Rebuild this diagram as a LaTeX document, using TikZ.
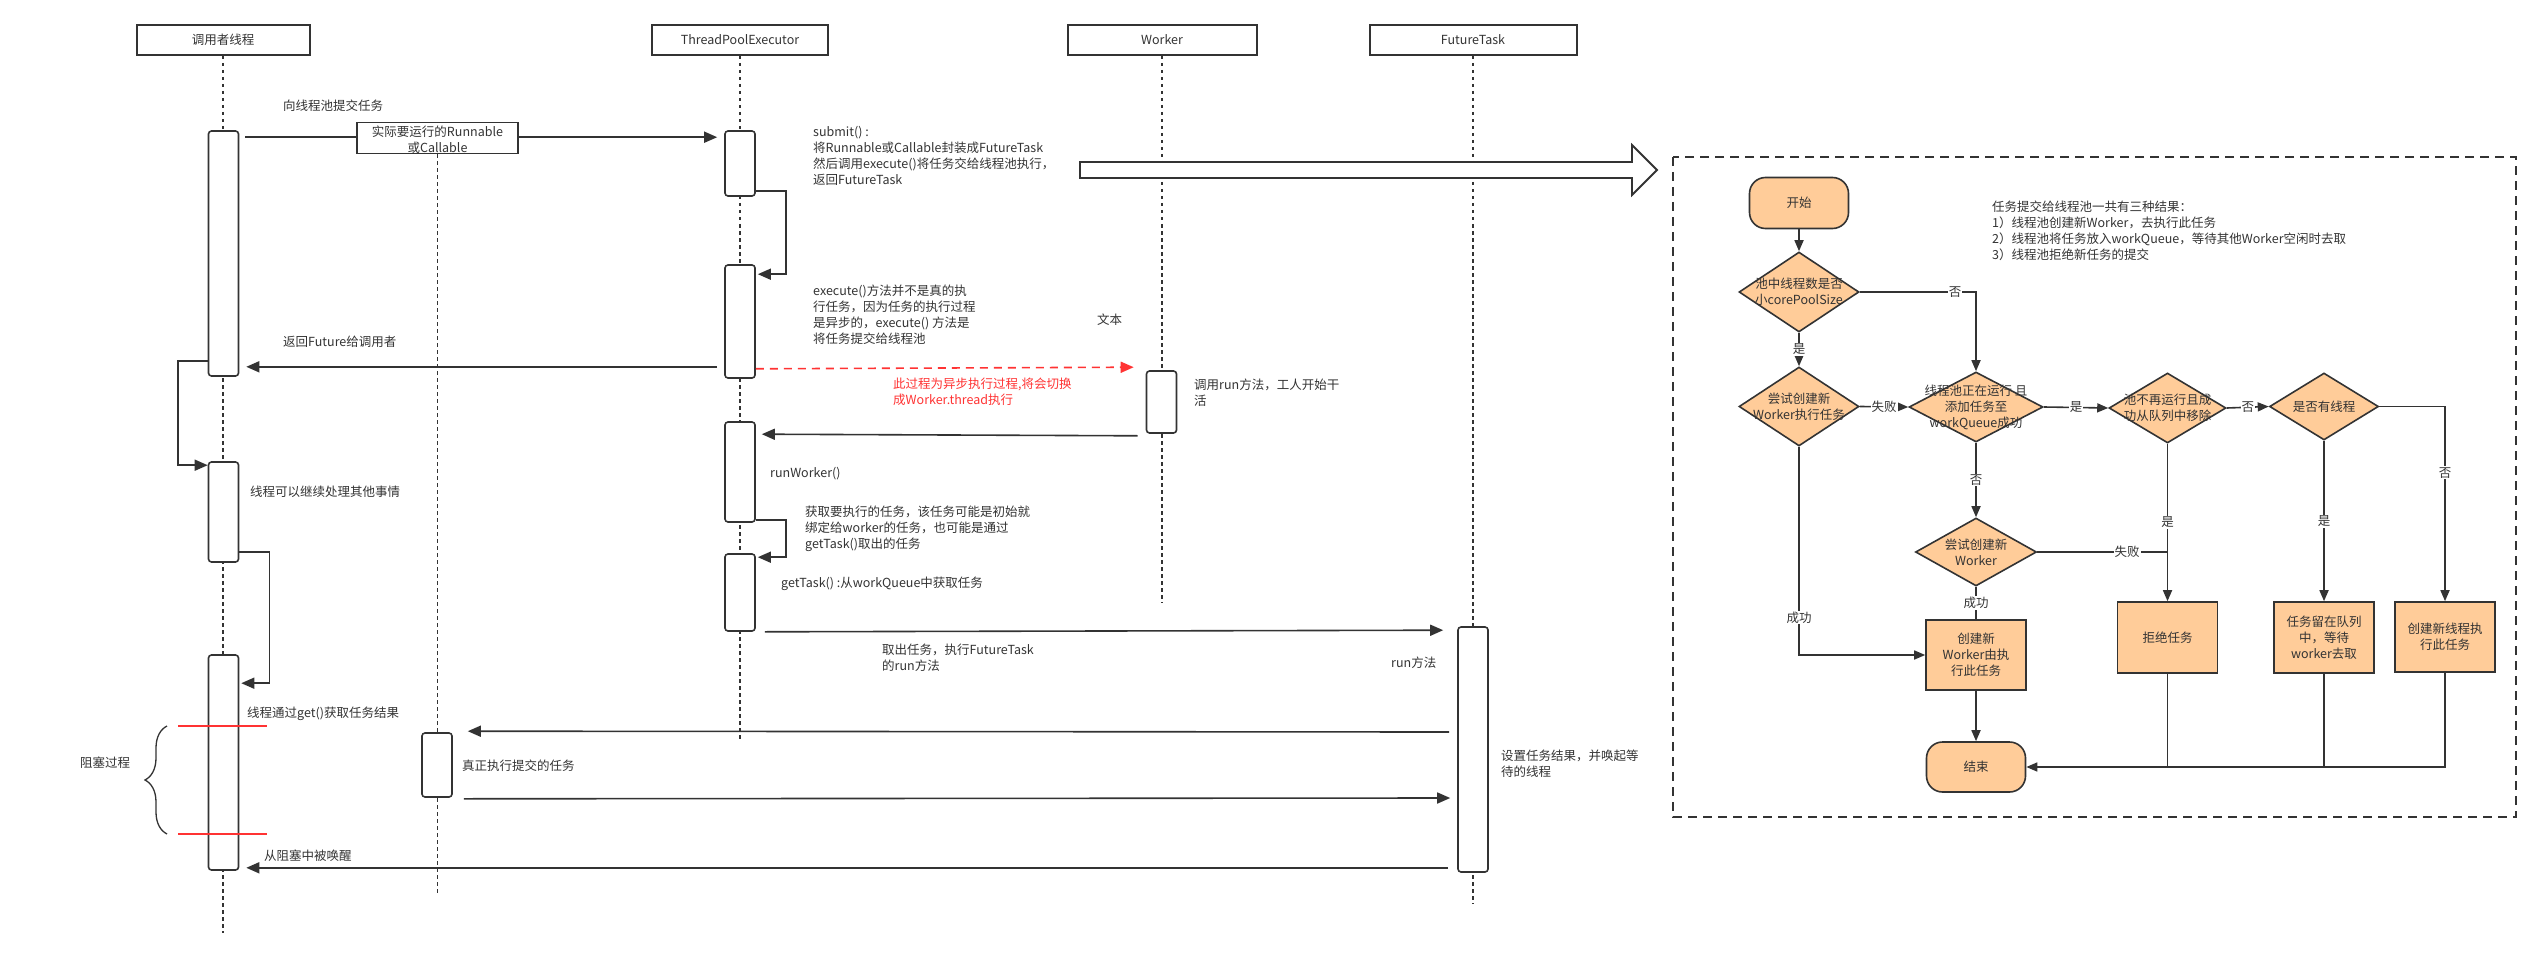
\documentclass[tikz,border=0pt]{standalone}
\usepackage{fontspec}
\setmainfont{Noto Sans CJK SC}
\usetikzlibrary{arrows.meta,shapes.geometric,decorations.pathreplacing,calc}
\definecolor{lc}{HTML}{333333}
\definecolor{tc}{HTML}{333333}
\definecolor{fc}{HTML}{FFCC99}
\definecolor{rc}{HTML}{FF3333}
\newcommand\myfs{\fontsize{12.5}{16}\selectfont}
\begin{document}
\begin{tikzpicture}[x=1pt,y=-1pt,
  hdr/.style={draw=lc, line width=2pt, minimum height=30pt, inner sep=0pt, font=\myfs, text=tc},
  life/.style={draw=lc, line width=1.5pt, dash pattern=on 3.5pt off 3.5pt},
  act/.style={draw=lc, fill=white, line width=1.6pt, rounded corners=3pt, minimum width=30pt, inner sep=0pt},
  msg/.style={draw=lc, line width=1.6pt, -{Triangle[length=13pt,width=11pt]}},
  rmsg/.style={draw=rc, line width=1.6pt, dash pattern=on 8pt off 6pt, -{Triangle[length=13pt,width=11pt,fill=rc]}},
  txt/.style={anchor=north west, inner sep=0pt, align=left, font=\myfs, text=tc, execute at begin node=\strut},
  fl/.style={draw=lc, line width=1.6pt, -{Triangle[length=11pt,width=9pt]}},
  fline/.style={draw=lc, line width=1.6pt},
  dia/.style={diamond, draw=lc, fill=fc, line width=1.6pt, inner sep=0pt},
  dtext/.style={align=center, font=\myfs, text=tc, inner sep=0pt},
  proc/.style={draw=lc, fill=fc, line width=1.6pt, inner sep=0pt, align=center, font=\myfs, text=tc},
  term/.style={proc, rounded corners=16pt},
  elab/.style={fill=white, inner sep=1pt, font=\myfs, text=tc}
]
\useasboundingbox (0,0) rectangle (2540,960);

% ---------------- headers ----------------
\node[hdr, minimum width=173pt] (h1) at (223,40) {调用者线程};
\node[hdr, minimum width=176pt] (h2) at (740,40) {ThreadPoolExecutor};
\node[hdr, minimum width=189pt] (h3) at (1162,40) {Worker};
\node[hdr, minimum width=207pt] (h4) at (1473,40) {FutureTask};

\coordinate (e1) at (223,933);
\coordinate (e2) at (437,895);
\coordinate (e3) at (740,742);
\coordinate (e4) at (1162,603);
\coordinate (e5) at (1473,904);

\draw[life] (h1.south) -- (h1.south |- e1);
\draw[life] (h2.south) -- (h2.south |- e3);
\draw[life] (h3.south) -- (h3.south |- e4);
\draw[life] (h4.south) -- (h4.south |- e5);

% ---------------- activations ----------------
\node[act, minimum height=245pt] (c1) at (223.5,253.5) {};
\node[act, minimum height=100pt] (c2) at (223.5,512) {};
\node[act, minimum height=215pt] (c3) at (223.5,762.5) {};
\node[act, minimum height=65pt] (t1) at (740,163.5) {};
\node[act, minimum height=113pt] (t2) at (740,321.5) {};
\node[act, minimum height=100pt] (t3) at (740,472) {};
\node[act, minimum height=77pt] (t4) at (740,592.5) {};
\node[act, minimum height=62pt] (w1) at (1161.5,402) {};
\node[act, minimum height=245pt] (f1) at (1473,749.5) {};

% ---------------- messages ----------------
\draw[msg] ($(c1.north east)+(6,7)$) -- ($(t1.north west)+(-7,7)$);
\node[draw=lc, line width=1.6pt, fill=white, minimum width=161pt, minimum height=31pt, inner sep=0pt] (rb) at (437.5,138) {};
\draw[life] (rb.south) -- (rb.south |- e2);
\node[act, minimum height=64pt] (r1) at (437,765) {};
\node[dtext] at (437.5,140) {实际要运行的Runnable\\或Callable};
\node[txt] at (283,99) {向线程池提交任务};

\draw[msg] ($(t1.south east)+(0,-6)$) -| ($(t2.north east)+(30,10)$) -- ($(t2.north east)+(2,10)$);
\node[txt] at (813,126) {submit() :\\将Runnable或Callable封装成FutureTask\\然后调用execute()将任务交给线程池执行，\\返回FutureTask};

\draw[msg] ($(t2.south west)+(-7,-12)$) -- ($(c1.south east)+(7,-10)$);
\node[txt] at (283,335) {返回Future给调用者};
\node[txt] at (813,285) {execute()方法并不是真的执\\行任务，因为任务的执行过程\\是异步的，execute() 方法是\\将任务提交给线程池};

\draw[msg] ($(c1.south west)+(0,-16)$) -- ++(-30,0) |- ($(c2.north west)+(0,4)$);
\node[txt] at (250,485) {线程可以继续处理其他事情};
\draw[msg] ($(c2.south east)+(0,-11)$) -- ++(30,0) |- ($(c3.north east)+(2,29)$);

\draw[rmsg] ($(t2.south east)+(0,-10)$) -- ($(w1.north west)+(-12,-3)$);
\node[txt, text=rc] at (893,378) {此过程为异步执行过程,将会切换\\成Worker.thread执行};
\node[txt] at (1097,313) {文本};
\node[txt] at (1194,379) {调用run方法，工人开始干\\活};

\draw[msg] ($(w1.south west)+(-8,2)$) -- ($(t3.north east)+(6,13)$);
\node[txt] at (770,466) {runWorker()};

\draw[msg] ($(t3.south east)+(0,-3)$) -| ($(t4.north east)+(30,4)$) -- ($(t4.north east)+(2,4)$);
\node[txt] at (805,506) {获取要执行的任务，该任务可能是初始就\\绑定给worker的任务，也可能是通过\\getTask()取出的任务};
\node[txt] at (781,576) {getTask() :从workQueue中获取任务};

\draw[msg] ($(t4.south east)+(9,0)$) -- ($(f1.north west)+(-14,4)$);
\node[txt] at (882,644) {取出任务，执行FutureTask\\的run方法};
\node[txt] at (1391,656) {run方法};

\draw[msg] ($(f1.west)+(-8,-17.5)$) -- ($(r1.north east)+(15,-1)$);
\node[txt] at (247,706) {线程通过get()获取任务结果};
\node[txt] at (462,759) {真正执行提交的任务};
\draw[msg] ($(r1.south east)+(11,1)$) -- ($(f1.west)+(-7,48.5)$);
\node[txt] at (1501,750) {设置任务结果，并唤起等\\待的线程};

\draw[msg] ($(f1.south west)+(-9,-5)$) -- ($(c3.south east)+(7,-3)$);
\node[txt] at (264,849) {从阻塞中被唤醒};

% blocking markers
\draw[rc, line width=1.6pt] (178,726) -- (267,726);
\draw[rc, line width=1.6pt] (178,834) -- (267,834);
\draw[lc, line width=1.3pt, decorate, decoration={brace, amplitude=22pt}] (167,834) -- (167,726);
\node[txt] at (80,756) {阻塞过程};

% big hollow arrow
\draw[lc, fill=white, line width=1.8pt, line join=miter] (1080,162) -- (1632,162) -- (1632,145) -- (1657,170) -- (1632,195) -- (1632,178) -- (1080,178) -- cycle;

% ---------------- flowchart ----------------
\draw[lc, line width=1.6pt, dash pattern=on 9pt off 6pt] (1673,157) rectangle (2516,817);

\node[term, minimum width=99pt, minimum height=51pt] (st) at (1799,203) {开始};
\node[dia, minimum width=120pt, minimum height=80pt] (d1) at (1799,292) {};
\node[dtext] at (d1) {池中线程数是否\\小corePoolSize};
\node[dia, minimum width=120pt, minimum height=79pt] (d3) at (1799,406.5) {};
\node[dtext] at (d3) {尝试创建新\\Worker执行任务};
\node[dia, minimum width=134pt, minimum height=70pt] (d2) at (1976,407) {};
\node[dtext] at (d2) {线程池正在运行 且\\添加任务至\\workQueue成功};
\node[dia, minimum width=117pt, minimum height=70pt] (d4) at (2167.5,408) {};
\node[dtext] at (d4) {池不再运行且成\\功从队列中移除};
\node[dia, minimum width=109pt, minimum height=67pt] (d5) at (2324,406.5) {};
\node[dtext] at (d5) {是否有线程};
\node[dia, minimum width=121pt, minimum height=68pt] (d6) at (1976,552) {};
\node[dtext] at (d6) {尝试创建新\\Worker};
\node[proc, minimum width=100pt, minimum height=70pt] (b1) at (1976,655) {创建新\\Worker由执\\行此任务};
\node[proc, minimum width=100pt, minimum height=71pt] (b2) at (2167.5,637.5) {拒绝任务};
\node[proc, minimum width=100pt, minimum height=71pt] (b3) at (2324,637.5) {任务留在队列\\中，等待\\worker去取};
\node[proc, minimum width=100pt, minimum height=70pt] (b4) at (2445,637) {创建新线程执\\行此任务};
\node[term, minimum width=99pt, minimum height=50pt] (en) at (1976,767) {结束};

\node[txt] at (1992,201) {任务提交给线程池一共有三种结果：\\1）线程池创建新Worker，去执行此任务\\2）线程池将任务放入workQueue，等待其他Worker空闲时去取\\3）线程池拒绝新任务的提交};

\draw[fl] (st) -- (d1);
\draw[fl] (d1.east) -| node[elab, pos=0.41] {否} (d2.north);
\draw[fl] (d1.south) -- node[elab] {是} (d3.north);
\draw[fl] (d3.east) -- node[elab] {失败} (d2.west);
\draw[fl] (d2.east) -- node[elab] {是} (d4.west);
\draw[fl] (d4.east) -- node[elab] {否} (d5.west);
\draw[fl] (d5.east) -| node[elab, pos=0.67] {否} (b4.north);
\draw[fl] (d5.south) -- node[elab] {是} (b3.north);
\draw[fl] (d4.south) -- node[elab] {是} (b2.north);
\draw[fl] (d2.south) -- node[elab] {否} (d6.north);
\draw[fline] (d6.east) -- node[elab, pos=0.69] {失败} (d6.east -| b2.north);
\draw[fline] (d6.south) -- node[elab] {成功} (b1.north);
\draw[fl] (d3.south) |- node[elab, pos=0.41] {成功} (b1.west);
\draw[fl] (b1.south) -- (en.north);
\draw[fline] (b2.south) -- (b2.south |- en.east);
\draw[fline] (b3.south) -- (b3.south |- en.east);
\draw[fl] (b4.south) |- (en.east);
\end{tikzpicture}
\end{document}
